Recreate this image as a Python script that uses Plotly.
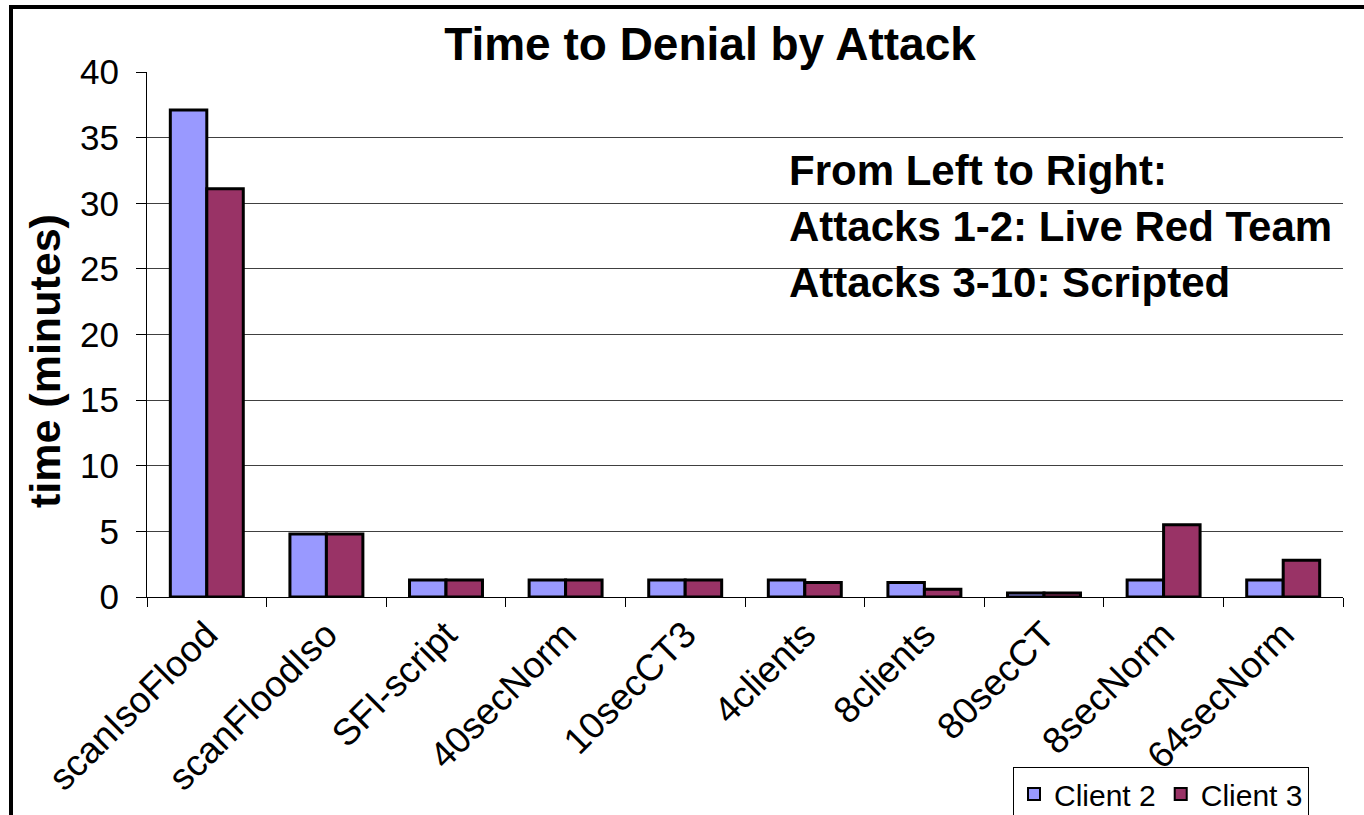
import plotly.graph_objects as go

# Attack scenarios (x-axis categories)
attacks = ["scanIsoFlood", "scanFloodIso", "SFI-script", "40secNorm", "10secCT3",
           "4clients", "8clients", "80secCT", "8secNorm", "64secNorm"]

# Time to denial in minutes for each client
client2 = [37.1, 4.8, 1.3, 1.3, 1.3, 1.3, 1.1, 0.3, 1.3, 1.3]
client3 = [31.1, 4.8, 1.3, 1.3, 1.3, 1.1, 0.6, 0.3, 5.5, 2.8]

y_ticks = [0, 5, 10, 15, 20, 25, 30, 35, 40]

W, H = 1364, 815
L, R, T, B = 147, 1343, 72, 597  # plot area in pixels


def px_x(px):
    return (px - L) / (R - L)


def px_y(py):
    return (B - py) / (B - T)


FONT = "Arial, Liberation Sans, sans-serif"

fig = go.Figure()
fig.add_trace(go.Bar(x=attacks, y=client2, name="Client 2",
                     marker=dict(color="#9999FF", line=dict(color="black", width=3))))
fig.add_trace(go.Bar(x=attacks, y=client3, name="Client 3",
                     marker=dict(color="#993366", line=dict(color="black", width=3))))

fig.update_layout(
    width=W, height=H,
    margin=dict(l=L, r=W - R, t=T, b=H - B, pad=0, autoexpand=False),
    plot_bgcolor="white", paper_bgcolor="white",
    barmode="group", bargap=0.39, bargroupgap=0,
    font=dict(family=FONT, color="black", size=32),
    title=dict(text="<b>Time to Denial by Attack</b>", xref="paper", x=px_x(710),
               xanchor="center", yref="container", y=1 - 44 / H, yanchor="middle",
               font=dict(size=46, family=FONT, color="black")),
    showlegend=True,
    legend=dict(orientation="h", x=px_x(1013), y=px_y(767), xanchor="left", yanchor="top",
                bordercolor="black", borderwidth=1, bgcolor="white",
                font=dict(size=30, family=FONT, color="black"),
                itemsizing="constant", traceorder="normal"),
)

fig.update_xaxes(
    type="category", showline=True, linecolor="black", linewidth=1,
    ticks="outside", tickson="boundaries", ticklen=9, tickcolor="black",
    tickangle=-45, tickfont=dict(size=37, family=FONT, color="black"),
    showgrid=False, mirror=False, automargin=False,
)
fig.update_yaxes(
    range=[0, 40], tickvals=y_ticks, ticktext=[str(v) for v in y_ticks],
    showline=True, linecolor="black", linewidth=1,
    ticks="outside", ticklen=10, tickcolor="black", ticklabelstandoff=10,
    tickfont=dict(size=35, family=FONT, color="black"),
    showgrid=True, gridcolor="#404040", gridwidth=1, zeroline=False, automargin=False,
)

# Y-axis title
fig.add_annotation(text="<b>time (minutes)</b>", xref="paper", yref="paper",
                   x=px_x(45), y=px_y(361), textangle=-90, showarrow=False,
                   xanchor="center", yanchor="middle",
                   font=dict(size=43, family=FONT, color="black"))

# Explanatory note in the upper right
note_lines = ["From Left to Right:", "Attacks 1-2: Live Red Team", "Attacks 3-10: Scripted"]
for line, cy in zip(note_lines, [170, 226, 282]):
    fig.add_annotation(text="<b>" + line + "</b>", xref="paper", yref="paper",
                       x=px_x(787), y=px_y(cy), showarrow=False,
                       xanchor="left", yanchor="middle", align="left",
                       font=dict(size=42, family=FONT, color="black"))

# Chart-area frame
fig.add_shape(type="rect", xref="paper", yref="paper",
              x0=px_x(11), x1=px_x(1400), y0=px_y(840), y1=px_y(7),
              line=dict(color="black", width=4), fillcolor="rgba(0,0,0,0)", layer="above")

fig.write_html("out.html")
